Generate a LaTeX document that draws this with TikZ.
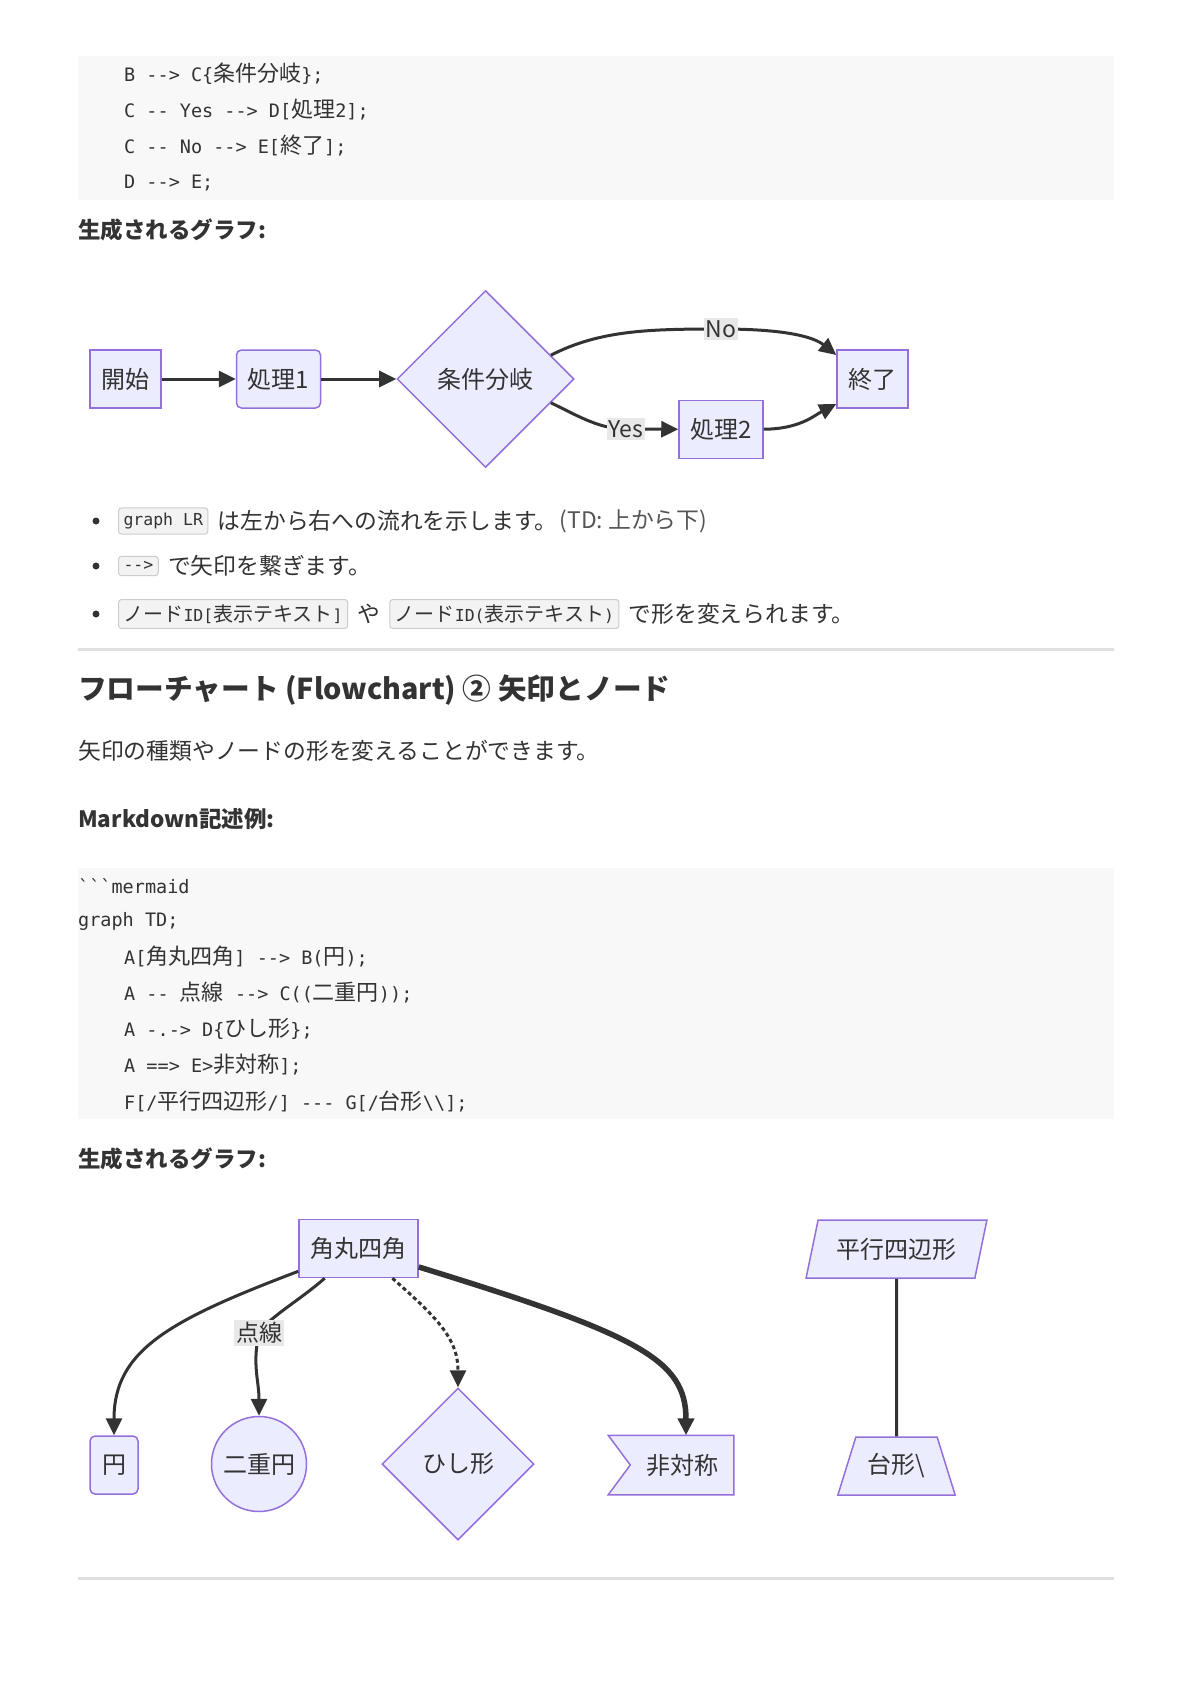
\documentclass[tikz,border=0pt]{standalone}
\usepackage{fontspec}
\setmainfont{Noto Sans CJK JP}
\newfontfamily\monofam{DejaVu Sans Mono}
\usetikzlibrary{positioning,arrows.meta,shapes.geometric,backgrounds}

\definecolor{nodefill}{HTML}{ECECFF}
\definecolor{nodeline}{HTML}{9370DB}
\definecolor{edgecol}{HTML}{333333}
\definecolor{txt}{HTML}{333333}
\definecolor{softtxt}{HTML}{555555}
\definecolor{codebg}{HTML}{F8F8F8}
\definecolor{labelbg}{HTML}{E8E8E8}
\definecolor{rulecol}{HTML}{E0E0E0}
\definecolor{badgefill}{HTML}{F3F3F3}
\definecolor{badgeline}{HTML}{CCCCCC}

% code pieces in mono, CJK pieces in the main font
\newcommand\cf[1]{{\monofam\fontsize{18.5}{22}\selectfont #1}}
\newcommand\jb[1]{{\normalfont\fontsize{20}{24}\selectfont #1}}

\tikzset{
  fc/.style={draw=nodeline, fill=nodefill, line width=1.5pt, text=txt,
    font=\fontsize{24}{28}\selectfont, inner sep=0pt},
  boxnode/.style={fc, rectangle, minimum height=58pt},
  roundnode/.style={boxnode, rounded corners=5pt},
  decision/.style={fc, diamond, aspect=1},
  link/.style={draw=edgecol, line width=3pt, -{Triangle[length=17pt,width=16pt]}},
  thicklink/.style={link, line width=5.5pt},
  dotlink/.style={link, dash pattern=on 4pt off 3pt},
  plainlink/.style={draw=edgecol, line width=3pt},
  edgelbl/.style={fill=labelbg, text=txt, font=\fontsize{23}{27}\selectfont, inner sep=2pt},
  codeline/.style={anchor=west, text=txt, font=\fontsize{22}{26}\selectfont, inner sep=0pt},
  bodytext/.style={anchor=west, text=txt, font=\fontsize{22.8}{27}\selectfont, inner sep=0pt},
  subhead/.style={bodytext, font=\fontsize{22.5}{27}\selectfont\bfseries},
  badge/.style={anchor=west, draw=badgeline, fill=badgefill, rounded corners=3pt,
    line width=1pt, inner xsep=5pt, inner ysep=5pt, text=txt,
    font=\monofam\fontsize{16.5}{19}\selectfont},
  bulletdot/.style={fill=txt}
}

\begin{document}
\begin{tikzpicture}[x=1pt, y=-1pt]
  \begin{scope}[on background layer]
    \fill[white] (0,0) rectangle (1192,1686);
  \end{scope}
  \useasboundingbox (0,0) rectangle (1192,1686);

  % first code block
  \fill[codebg] (78,56) rectangle (1114,200);
  \node[codeline] (c1) at (124,74) {\cf{B -{}-> C\{}条件分岐\cf{\};}};
  \node[codeline] (c2) at (124,110) {\cf{C -{}- Yes -{}-> D[}処理\cf{2];}};
  \node[codeline] (c3) at (124,146) {\cf{C -{}- No -{}-> E[}終了\cf{];}};
  \node[codeline] (c4) at (124,183) {\cf{D -{}-> E;}};

  \node[subhead] (gen1) at (78,230) {生成されるグラフ:};

  % flowchart LR
  \node[boxnode, minimum width=71pt] (start) at (125.5,379) {開始};
  \node[roundnode, minimum width=84pt, right=74pt of start] (proc1) {処理1};
  \node[decision, minimum width=177pt, minimum height=177pt, right=75pt of proc1] (cond) {条件分岐};
  \node[boxnode, minimum width=84pt] (proc2) at (721,429.5) {処理2};
  \node[boxnode, minimum width=71pt] (fin) at (872.5,379) {終了};

  \coordinate (noPt) at (721,329);
  \coordinate (yesPt) at (626,429);

  \draw[link] (start) -- (proc1);
  \draw[link] (proc1) -- (cond);
  \draw[link] (cond.20) .. controls (600,330) and (650,329) .. (noPt)
    .. controls (790,329) and (815,338) .. ([yshift=24pt]fin.west);
  \draw[link] (cond.-20) .. controls (580,417) and (600,429) .. (yesPt) -- (proc2);
  \draw[link] (proc2) .. controls (800,429) and (815,415) .. ([yshift=-25pt]fin.west);

  \node[edgelbl] (noLbl) at (noPt) {No};
  \node[edgelbl] (yesLbl) at (yesPt) {Yes};

  % bullets
  \fill[bulletdot] (96,521) circle (3.5pt);
  \node[badge] (b1) at (118,521) {graph LR};
  \node[bodytext, right=9pt of b1] (t1) {は左から右への流れを示します。};
  \node[bodytext, right=2pt of t1, text=softtxt] (t1b) {(TD: 上から下)};

  \fill[bulletdot] (96,566) circle (3.5pt);
  \node[badge] (b2) at (118,566) {-{}->};
  \node[bodytext, right=9pt of b2] (t2) {で矢印を繋ぎます。};

  \fill[bulletdot] (96,614) circle (3.5pt);
  \node[badge] (b3) at (118,614) {\jb{ノード}ID[\jb{表示テキスト}]};
  \node[bodytext, right=9pt of b3] (t3) {や};
  \node[badge, right=9pt of t3] (b4) {\jb{ノード}ID(\jb{表示テキスト})};
  \node[bodytext, right=9pt of b4] (t4) {で形を変えられます。};

  \draw[rulecol, line width=3pt] (78,649) -- (1114,649);

  \node[bodytext, font=\fontsize{28.7}{33}\selectfont\bfseries] (title) at (78,690)
    {フローチャート (Flowchart) ② 矢印とノード};
  \node[bodytext] (intro) at (78,751) {矢印の種類やノードの形を変えることができます。};
  \node[subhead] (mdhead) at (78,819) {Markdown記述例:};

  % second code block
  \fill[codebg] (78,868) rectangle (1114,1119);
  \node[codeline] (d1) at (78,886) {\cf{\textasciigrave\textasciigrave\textasciigrave mermaid}};
  \node[codeline] (d2) at (78,921) {\cf{graph TD;}};
  \node[codeline] (d3) at (124,957) {\cf{A[}角丸四角\cf{] -{}-> B(}円\cf{);}};
  \node[codeline] (d4) at (124,993) {\cf{A -{}- }点線\cf{ -{}-> C((}二重円\cf{));}};
  \node[codeline] (d5) at (124,1029) {\cf{A -.-> D\{}ひし形\cf{\};}};
  \node[codeline] (d6) at (124,1065) {\cf{A ==> E>}非対称\cf{];}};
  \node[codeline] (d7) at (124,1101) {\cf{F[/}平行四辺形\cf{/] -{}-{}- G[/}台形\cf{\textbackslash\textbackslash];}};

  \node[subhead] (gen2) at (78,1159) {生成されるグラフ:};

  % flowchart TD
  \node[boxnode, minimum width=119pt] (sq) at (358.5,1248.5) {角丸四角};
  \node[roundnode, minimum width=48pt] (en) at (114,1465) {円};
  \node[fc, circle, minimum size=95pt] (dbl) at (259,1464) {二重円};
  \node[decision, minimum width=152pt, minimum height=152pt] (hishi) at (458,1464) {ひし形};
  \node[fc, draw=none, fill=none, rectangle, minimum width=102pt, minimum height=58pt] (asym) at (682,1465) {非対称};
  \begin{scope}[on background layer]
    \draw[fc] ([xshift=-22pt]asym.north west) -- (asym.north east) -- (asym.south east)
      -- ([xshift=-22pt]asym.south west) -- (asym.west) -- cycle;
  \end{scope}
  \node[fc, trapezium, trapezium left angle=67.5, trapezium right angle=112.5,
    trapezium stretches=true, minimum width=181pt, minimum height=58pt] (para) at (896.5,1249) {平行四辺形};
  \node[fc, trapezium, trapezium left angle=62.6, trapezium right angle=62.6,
    trapezium stretches=true, minimum width=118pt, minimum height=58pt] (trap) at (896.5,1466) {台形\textbackslash};

  \coordinate (dotPt) at (259,1333);

  \draw[link] (sq) .. controls (170,1320) and (114,1350) .. (en);
  \draw[link] (sq) .. controls (300,1300) and (268,1318) .. (dotPt)
    .. controls (252,1365) and (259,1380) .. (dbl);
  \draw[dotlink] (sq) .. controls (440,1320) and (458,1340) .. (hishi);
  \draw[thicklink] (sq) .. controls (640,1335) and (686,1360) .. ([xshift=4pt]asym.north);
  \draw[plainlink] (para.south) -- (trap.north);

  \node[edgelbl] (dotLbl) at (dotPt) {点線};

  \draw[rulecol, line width=3pt] (78,1578) -- (1114,1578);
\end{tikzpicture}
\end{document}
